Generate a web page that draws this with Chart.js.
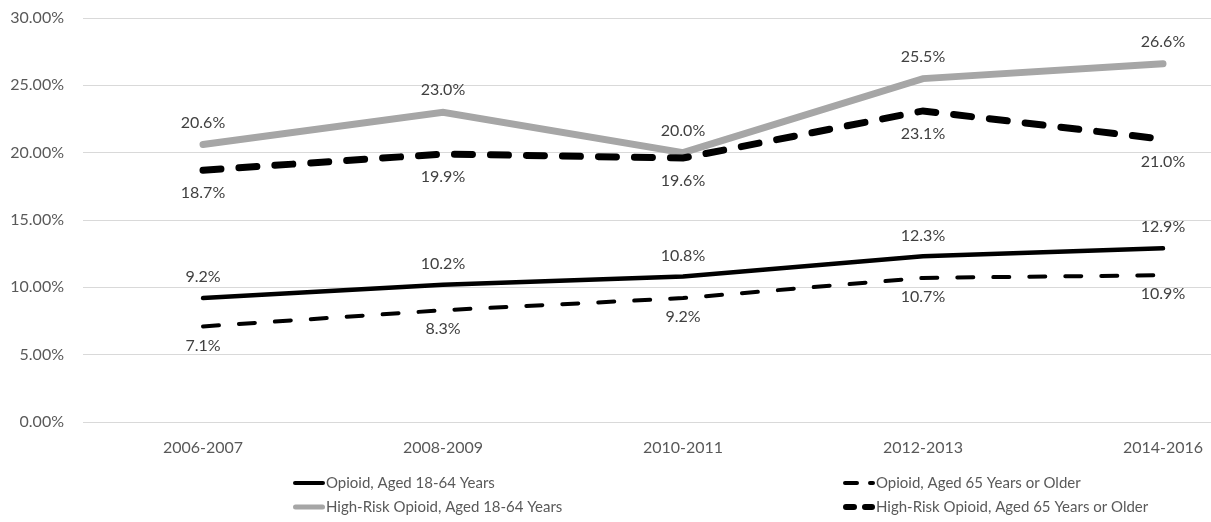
<!DOCTYPE html>
<html>
<head>
<meta charset="utf-8">
<script src="https://cdn.jsdelivr.net/npm/chart.js@4.4.1/dist/chart.umd.min.js"></script>
<style>
    html, body { margin: 0; padding: 0; background: #fff; }
    #frame { width: 1211px; height: 522px; overflow: hidden; }
    #wrap { width: 1290px; height: 522px; }
</style>
</head>
<body>
<div id="frame"><div id="wrap"><canvas id="opioidChart"></canvas></div></div>
<script>
'use strict';

// Data (percent)
const periods = ['2006-2007', '2008-2009', '2010-2011', '2012-2013', '2014-2016'];
const opioid1864 = [9.2, 10.2, 10.8, 12.3, 12.9];
const opioid65 = [7.1, 8.3, 9.2, 10.7, 10.9];
const highRisk1864 = [20.6, 23.0, 20.0, 25.5, 26.6];
const highRisk65 = [18.7, 19.9, 19.6, 23.1, 21.0];
const yTicks = [0, 5, 10, 15, 20, 25, 30];

const FONT = 'Lato, "Open Sans", sans-serif';

// Value labels above / below each point
const pointLabels = {
    id: 'pointLabels',
    afterDatasetsDraw(chart) {
        const ctx = chart.ctx;
        ctx.save();
        ctx.font = '16px ' + FONT;
        ctx.fillStyle = '#404040';
        ctx.textAlign = 'center';
        ctx.textBaseline = 'middle';
        chart.data.datasets.forEach(function(ds, i) {
            const meta = chart.getDatasetMeta(i);
            meta.data.forEach(function(pt, j) {
                ctx.fillText(ds.data[j].toFixed(1) + '%', pt.x, pt.y + ds.labelOffset);
            });
        });
        ctx.restore();
    }
};

// Two-column legend under the axis, like the original
const gridLegend = {
    id: 'gridLegend',
    afterDraw(chart) {
        const ctx = chart.ctx;
        const cols = [293, 843];
        const rows = [483, 507];
        ctx.save();
        ctx.font = '15px ' + FONT;
        ctx.fillStyle = '#595959';
        ctx.textBaseline = 'middle';
        chart.data.datasets.forEach(function(ds, i) {
            const x = cols[i % 2];
            const y = rows[Math.floor(i / 2)];
            ctx.beginPath();
            ctx.strokeStyle = ds.borderColor;
            ctx.lineWidth = ds.legendWidth;
            ctx.lineCap = ds.borderCapStyle || 'butt';
            ctx.setLineDash(ds.legendDash || []);
            ctx.moveTo(x + ctx.lineWidth / 2, y);
            ctx.lineTo(x + 32 - ctx.lineWidth / 2, y);
            ctx.stroke();
            ctx.setLineDash([]);
            ctx.fillText(ds.label, x + 33, y);
        });
        ctx.restore();
    }
};

document.addEventListener('DOMContentLoaded', function() {
    const ctx = document.getElementById('opioidChart').getContext('2d');

    new Chart(ctx, {
        type: 'line',
        data: {
            labels: periods,
            datasets: [
                {
                    label: 'Opioid, Aged 18-64 Years',
                    data: opioid1864,
                    borderColor: '#000000',
                    borderWidth: 4.5,
                    borderCapStyle: 'round',
                    labelOffset: -21,
                    legendWidth: 4,
                    order: 4
                },
                {
                    label: 'Opioid, Aged 65 Years or Older',
                    data: opioid65,
                    borderColor: '#000000',
                    borderWidth: 4,
                    borderDash: [16, 20],
                    borderCapStyle: 'round',
                    labelOffset: 19,
                    legendWidth: 4,
                    legendDash: [12, 13],
                    order: 3
                },
                {
                    label: 'High-Risk Opioid, Aged 18-64 Years',
                    data: highRisk1864,
                    borderColor: '#a6a6a6',
                    borderWidth: 7,
                    borderCapStyle: 'round',
                    labelOffset: -22,
                    legendWidth: 5,
                    order: 2
                },
                {
                    label: 'High-Risk Opioid, Aged 65 Years or Older',
                    data: highRisk65,
                    borderColor: '#000000',
                    borderWidth: 7,
                    borderDash: [18, 18],
                    borderCapStyle: 'round',
                    labelOffset: 23,
                    legendWidth: 6,
                    legendDash: [8, 11],
                    order: 1
                }
            ]
        },
        options: {
            responsive: true,
            maintainAspectRatio: false,
            animation: false,
            layout: {
                padding: { top: 18, right: 7, bottom: 66, left: 0 }
            },
            elements: {
                point: { radius: 0, hoverRadius: 0 },
                line: { tension: 0, fill: false }
            },
            scales: {
                x: {
                    offset: true,
                    grid: { display: false, drawTicks: false },
                    border: { display: false },
                    ticks: {
                        padding: 16,
                        color: '#595959',
                        font: { family: FONT, size: 16 },
                        maxRotation: 0
                    },
                    afterFit: function(scale) { scale.height = 34; }
                },
                y: {
                    min: 0,
                    max: 30,
                    grid: { color: '#d9d9d9', lineWidth: 1, drawTicks: false },
                    border: { display: false },
                    afterBuildTicks: function(scale) {
                        scale.ticks = yTicks.map(function(v) { return { value: v }; });
                    },
                    ticks: {
                        padding: 19,
                        color: '#595959',
                        font: { family: FONT, size: 16 },
                        callback: function(value) { return value.toFixed(2) + '%'; }
                    },
                    afterFit: function(scale) {
                        // label padding should not push the plot area down
                        scale.width = 83;
                        scale.paddingTop = 0;
                        scale.paddingBottom = 0;
                    }
                }
            },
            plugins: {
                legend: { display: false },
                tooltip: { enabled: false }
            }
        },
        plugins: [pointLabels, gridLegend]
    });
});
</script>
</body>
</html>
